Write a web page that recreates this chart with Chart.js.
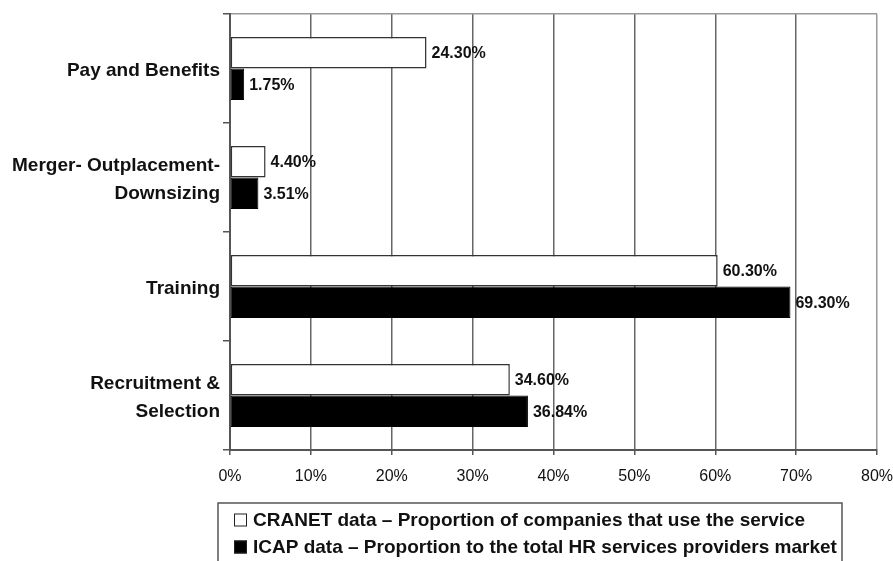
<!DOCTYPE html>
<html>
<head>
<meta charset="utf-8">
<script src="https://cdn.jsdelivr.net/npm/chart.js@4/dist/chart.umd.min.js"></script>
<style>
  html, body { margin: 0; padding: 0; background: #fff; }
  #wrap { width: 893px; height: 561px; position: relative; }
</style>
</head>
<body>
<div id="wrap"><canvas id="c" width="893" height="561"></canvas></div>
<script>
// HR services: usage (CRANET) vs. market share (ICAP)
const categories = [
  'Pay and Benefits',
  ['Merger- Outplacement-', 'Downsizing'],
  'Training',
  ['Recruitment &', 'Selection']
];
const cranetValues = [24.30, 4.40, 60.30, 34.60];
const icapValues = [1.75, 3.51, 69.30, 36.84];
const xTicks = [0, 10, 20, 30, 40, 50, 60, 70, 80];
const seriesNames = [
  'CRANET data \u2013 Proportion of companies that use the service',
  'ICAP data \u2013 Proportion to the total HR services providers market'
];

const FONT = '"Liberation Sans", Arial, Helvetica, sans-serif';

// value labels at the end of each bar
const valueLabels = {
  id: 'valueLabels',
  afterDatasetsDraw(chart) {
    const ctx = chart.ctx;
    ctx.save();
    ctx.font = 'bold 16px ' + FONT;
    ctx.fillStyle = '#111';
    ctx.textAlign = 'left';
    ctx.textBaseline = 'middle';
    chart.data.datasets.forEach((ds, di) => {
      const meta = chart.getDatasetMeta(di);
      meta.data.forEach((bar, i) => {
        ctx.fillText(ds.data[i].toFixed(2) + '%', bar.x + 5, bar.y + 1);
      });
    });
    ctx.restore();
  }
};

// boxed two-row legend under the axis
const boxedLegend = {
  id: 'boxedLegend',
  afterDraw(chart) {
    const ctx = chart.ctx;
    const left = 218, right = 842, top = 503;
    ctx.save();
    ctx.strokeStyle = '#555';
    ctx.lineWidth = 1.5;
    ctx.beginPath();
    ctx.moveTo(left, chart.height + 5);
    ctx.lineTo(left, top);
    ctx.lineTo(right, top);
    ctx.lineTo(right, chart.height + 5);
    ctx.stroke();
    const rows = [520, 547];
    ctx.font = 'bold 19px ' + FONT;
    ctx.textBaseline = 'middle';
    ctx.textAlign = 'left';
    chart.data.datasets.forEach((ds, i) => {
      const y = rows[i];
      ctx.fillStyle = ds.backgroundColor;
      ctx.fillRect(234, y - 6.5, 13, 13);
      ctx.strokeStyle = '#222';
      ctx.lineWidth = 1;
      ctx.strokeRect(234.5, y - 6, 12, 12);
      ctx.fillStyle = '#111';
      ctx.fillText(seriesNames[i], 253, y + 1);
    });
    ctx.restore();
  }
};

new Chart(document.getElementById('c'), {
  type: 'bar',
  data: {
    labels: categories,
    datasets: [
      {
        label: seriesNames[0],
        data: cranetValues,
        backgroundColor: '#ffffff',
        borderColor: '#333',
        borderWidth: 1.5,
        borderSkipped: false
      },
      {
        label: seriesNames[1],
        data: icapValues,
        backgroundColor: '#000000',
        borderColor: '#000',
        borderWidth: 1,
        borderSkipped: false
      }
    ]
  },
  options: {
    indexAxis: 'y',
    responsive: false,
    animation: false,
    devicePixelRatio: 1,
    layout: { padding: { top: 14, right: 16, bottom: 0, left: 0 } },
    datasets: { bar: { categoryPercentage: 0.58, barPercentage: 1 } },
    plugins: {
      legend: { display: false },
      tooltip: { enabled: false }
    },
    scales: {
      x: {
        type: 'linear',
        min: 0,
        max: 80,
        afterBuildTicks(scale) { scale.ticks = xTicks.map(v => ({ value: v })); },
        afterFit(scale) {
          scale.height = 111;
          scale.paddingLeft = 0;
          scale.paddingRight = 0;
        },
        ticks: {
          callback: v => v + '%',
          font: { family: FONT, size: 16 },
          color: '#111',
          padding: 12
        },
        grid: {
          color: c => (c.tick && c.tick.value === 80) ? '#999' : (c.tick && c.tick.value === 0 ? 'rgba(0,0,0,0)' : '#666'),
          lineWidth: 1.5,
          tickColor: '#555',
          tickLength: 5
        },
        border: { display: true, color: '#555', width: 2 }
      },
      y: {
        type: 'category',
        offset: true,
        afterFit(scale) {
          scale.width = 230;
          scale.paddingTop = 0;
          scale.paddingBottom = 0;
        },
        ticks: {
          font: { family: FONT, size: 19, weight: 'bold', lineHeight: 1.47 },
          color: '#111',
          padding: 3,
          labelOffset: 2
        },
        grid: {
          offset: true,
          drawOnChartArea: true,
          color: c => c.index === 0 ? '#999' : 'rgba(0,0,0,0)',
          lineWidth: 1.5,
          tickColor: '#555',
          tickLength: 7
        },
        border: { display: true, color: '#555', width: 2 }
      }
    }
  },
  plugins: [valueLabels, boxedLegend]
});
</script>
</body>
</html>
